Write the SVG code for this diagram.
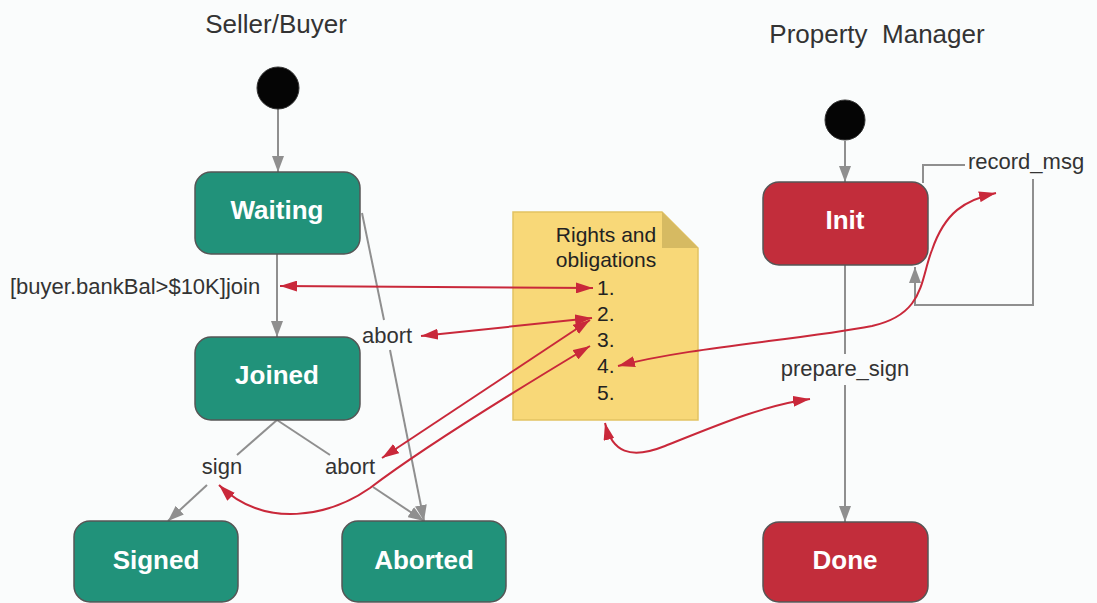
<svg xmlns="http://www.w3.org/2000/svg" width="1097" height="603" viewBox="0 0 1097 603">
  <style>
    .title { font-family: "Liberation Sans", Arial, sans-serif; font-size: 26px; fill: #333; }
    .label { font-family: "Liberation Sans", Arial, sans-serif; font-size: 22px; fill: #333; }
    .note-text { font-family: "Liberation Sans", Arial, sans-serif; font-size: 21px; fill: #222; }
    .state-name { font-family: "Liberation Sans", Arial, sans-serif; font-size: 26px; font-weight: bold; fill: #fff; text-anchor: middle; }
    .teal { fill: #21927a; stroke: #555; stroke-width: 1.5; }
    .red { fill: #c22d3b; stroke: #555; stroke-width: 1.5; }
    .start { fill: #050505; stroke: #333; stroke-width: 1; }
    .flow { fill: none; stroke: #8f8f8f; stroke-width: 2; }
    .link { fill: none; stroke: #c9283a; stroke-width: 2; }
  </style>
  <defs>
    <marker id="grayHead" viewBox="0 0 16 12" markerWidth="16" markerHeight="12" refX="16" refY="6" orient="auto" markerUnits="userSpaceOnUse">
      <path d="M0,0 L16,6 L0,12 z" fill="#8f8f8f"/>
    </marker>
    <marker id="redHead" viewBox="0 0 17 11" markerWidth="17" markerHeight="11" refX="17" refY="5.5" orient="auto-start-reverse" markerUnits="userSpaceOnUse">
      <path d="M0,0 L17,5.5 L0,11 z" fill="#c9283a"/>
    </marker>
  </defs>

  <rect width="1097" height="603" fill="#fafcfc"/>

  <!-- swimlane titles -->
  <text class="title" x="276" y="33" text-anchor="middle">Seller/Buyer</text>
  <text class="title" x="877" y="43" text-anchor="middle" xml:space="preserve">Property  Manager</text>

  <!-- rights and obligations note (links are drawn over it) -->
  <g id="note">
    <path d="M513,212 L662,212 L698,248 L698,420 L513,420 Z" fill="#f8d878" stroke="#e2c262" stroke-width="1.5"/>
    <path d="M662,212 L662,248 L698,248 Z" fill="#d6ba62"/>
    <text class="note-text" x="606" y="242" text-anchor="middle">Rights and</text>
    <text class="note-text" x="606" y="267" text-anchor="middle">obligations</text>
    <text class="note-text" x="597" y="295">1.</text>
    <text class="note-text" x="597" y="321">2.</text>
    <text class="note-text" x="597" y="347">3.</text>
    <text class="note-text" x="597" y="373">4.</text>
    <text class="note-text" x="597" y="400">5.</text>
  </g>

  <!-- state-machine transitions -->
  <g id="connectors">
    <line class="flow" x1="278" y1="109" x2="278" y2="172" marker-end="url(#grayHead)"/>
    <line class="flow" x1="277" y1="254" x2="277" y2="337" marker-end="url(#grayHead)"/>
    <!-- Waiting -> Aborted, broken by the abort label -->
    <line class="flow" x1="362" y1="213" x2="384" y2="320"/>
    <line class="flow" x1="390" y1="350" x2="424" y2="521" marker-end="url(#grayHead)"/>
    <!-- Joined branches -->
    <line class="flow" x1="277" y1="420" x2="237" y2="455"/>
    <line class="flow" x1="277" y1="420" x2="330" y2="455"/>
    <line class="flow" x1="207" y1="485" x2="168" y2="521" marker-end="url(#grayHead)"/>
    <line class="flow" x1="373" y1="487" x2="424" y2="521" marker-end="url(#grayHead)"/>
    <!-- Property manager -->
    <line class="flow" x1="845" y1="141" x2="845" y2="182" marker-end="url(#grayHead)"/>
    <polyline class="flow" points="923,183 923,165 965,165"/>
    <polyline class="flow" points="1033,179 1033,305 915,305 915,267" marker-end="url(#grayHead)"/>
    <line class="flow" x1="845" y1="265" x2="845" y2="354"/>
    <line class="flow" x1="845" y1="385" x2="845" y2="522" marker-end="url(#grayHead)"/>

    <!-- links between transitions and the rights & obligations list -->
    <line class="link" x1="280" y1="286" x2="593" y2="288" marker-start="url(#redHead)" marker-end="url(#redHead)"/>
    <line class="link" x1="421" y1="336" x2="592" y2="318" marker-start="url(#redHead)" marker-end="url(#redHead)"/>
    <line class="link" x1="382" y1="458" x2="590" y2="320" marker-start="url(#redHead)" marker-end="url(#redHead)"/>
    <path class="link" d="M590,346 C500,400 420,450 370,488 C330,516 265,530 219,485" marker-start="url(#redHead)" marker-end="url(#redHead)"/>
    <path class="link" d="M618,366 C690,347 800,340 872,326 C925,314 920,280 932,250 C945,212 965,200 996,193" marker-start="url(#redHead)" marker-end="url(#redHead)"/>
    <path class="link" d="M605,423 C612,452 630,460 665,446 C720,424 765,405 810,399" marker-start="url(#redHead)" marker-end="url(#redHead)"/>
  </g>

  <!-- transition labels -->
  <text class="label" x="10" y="294">[buyer.bankBal&gt;$10K]join</text>
  <text class="label" x="387" y="343" text-anchor="middle">abort</text>
  <text class="label" x="222" y="474" text-anchor="middle">sign</text>
  <text class="label" x="350" y="474" text-anchor="middle">abort</text>
  <text class="label" x="968" y="169">record_msg</text>
  <text class="label" x="845" y="376" text-anchor="middle">prepare_sign</text>

  <!-- initial pseudo-states -->
  <g id="start-seller"><circle class="start" cx="278" cy="88" r="21"/></g>
  <g id="start-manager"><circle class="start" cx="845" cy="120" r="20"/></g>

  <!-- seller/buyer states -->
  <g id="waiting">
    <rect class="teal" x="195" y="172" width="165" height="82" rx="16"/>
    <text class="state-name" x="277" y="219">Waiting</text>
  </g>
  <g id="joined">
    <rect class="teal" x="195" y="337" width="165" height="83" rx="16"/>
    <text class="state-name" x="277" y="384">Joined</text>
  </g>
  <g id="signed">
    <rect class="teal" x="74" y="521" width="164" height="81" rx="16"/>
    <text class="state-name" x="156" y="569">Signed</text>
  </g>
  <g id="aborted">
    <rect class="teal" x="342" y="521" width="164" height="81" rx="16"/>
    <text class="state-name" x="424" y="569">Aborted</text>
  </g>

  <!-- property manager states -->
  <g id="init">
    <rect class="red" x="763" y="182" width="165" height="83" rx="16"/>
    <text class="state-name" x="845" y="229">Init</text>
  </g>
  <g id="done">
    <rect class="red" x="763" y="522" width="165" height="80" rx="16"/>
    <text class="state-name" x="845" y="569">Done</text>
  </g>
</svg>
